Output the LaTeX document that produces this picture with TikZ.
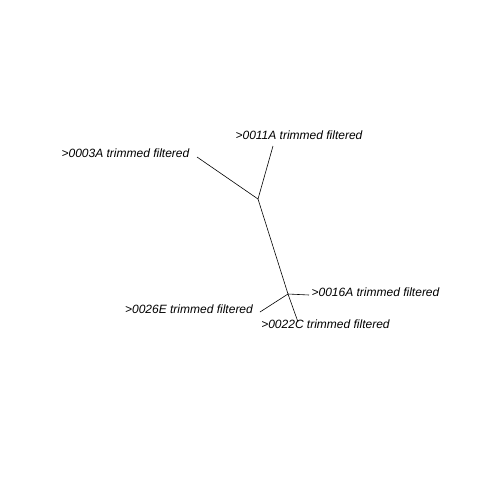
\documentclass[tikz,border=0pt]{standalone}
\usepackage{fontspec}
\setmainfont{Liberation Sans}
\tikzset{
	edge/.style={draw=black, line width=0.6pt},
	taxon/.style={inner sep=0pt, font=\fontsize{12}{14}\selectfont\itshape}
}
\begin{document}
\begin{tikzpicture}[x=1pt, y=-1pt]
		\useasboundingbox[fill=white] (0,0) rectangle (480,480);
		
		\coordinate (inA) at (258,199);
		\coordinate (inB) at (288,294);
		\coordinate (tip3A) at (197,157);
		\coordinate (tip11A) at (273,146);
		\coordinate (tip16A) at (309,295);
		\coordinate (tip26E) at (260,312);
		\coordinate (tip22C) at (298,322);
		
		\draw[edge] (inA) -- (tip3A);
		\draw[edge] (inA) -- (tip11A);
		\draw[edge] (inA) -- (inB);
		\draw[edge] (inB) -- (tip16A);
		\draw[edge] (inB) -- (tip26E);
		\draw[edge] (inB) -- (tip22C);
		
		\node[taxon] (lab3A) at (125.5,153) {>0003A trimmed filtered};
		\node[taxon] (lab11A) at (299,135.5) {>0011A trimmed filtered};
		\node[taxon] (lab16A) at (375.5,292.5) {>0016A trimmed filtered};
		\node[taxon] (lab26E) at (189,309.5) {>0026E trimmed filtered};
		\node[taxon] (lab22C) at (325.5,324.5) {>0022C trimmed filtered};
		
	\end{tikzpicture}
\end{document}
